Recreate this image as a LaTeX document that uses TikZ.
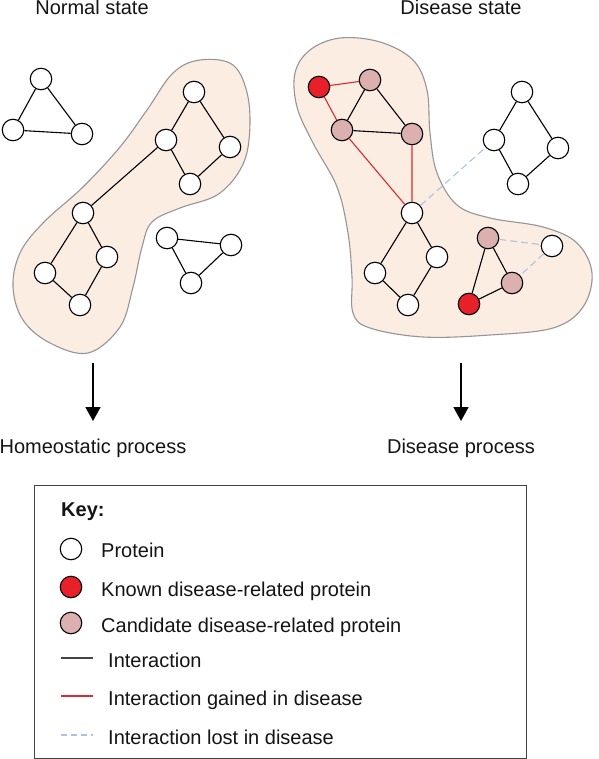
\documentclass[tikz,border=0pt]{standalone}
\usepackage{fontspec}
\setmainfont{Liberation Sans}
\usetikzlibrary{arrows.meta}
\definecolor{blobfill}{HTML}{FCEDE3}
\definecolor{blobline}{HTML}{959595}
\definecolor{known}{HTML}{E8202A}
\definecolor{cand}{HTML}{DDB0B0}
\definecolor{gain}{HTML}{DA2A30}
\definecolor{lost}{HTML}{A8C4E2}
\definecolor{keyline}{HTML}{444444}
\tikzset{
 prot/.style={circle, draw=black, fill=white, line width=1.1pt, minimum size=21.5pt, inner sep=0pt},
 knownp/.style={prot, fill=known},
 candp/.style={prot, fill=cand},
 inter/.style={line width=1.1pt, black},
 gained/.style={line width=1.1pt, gain},
 lostl/.style={line width=1.1pt, lost, dash pattern=on 7pt off 4pt},
 blob/.style={fill=blobfill, draw=blobline, line width=1.1pt},
 lbl/.style={font=\fontsize{20}{24}\selectfont, inner sep=0pt, text=black!92},
 bigarrow/.style={line width=1.7pt, -{Triangle[width=15pt,length=14pt]}},
}
\begin{document}
\begin{tikzpicture}[x=1pt,y=-1pt]
\useasboundingbox (0,0) rectangle (598,759);

% ---------- blobs ----------
\draw[blob] plot[smooth cycle, tension=0.6] coordinates {
 (200,60) (233,65) (248,97) (249,140) (240,170) (217,195) (180,208) (152,222)
 (142,247) (133,287) (120,327) (88,353) (50,343) (23,320) (13,287) (20,253)
 (43,223) (83,187) (120,147) (147,110) (173,73)};
\draw[blob] plot[smooth cycle, tension=0.6] coordinates {
 (310,50) (340,38) (380,42) (413,60) (427,90) (430,133) (437,173) (457,205)
 (490,218) (543,227) (577,243) (592,273) (583,307) (553,328) (490,335) (423,337)
 (370,328) (353,313) (352,277) (348,233) (337,187) (313,143) (297,107) (295,73)};

% ---------- titles ----------
\node[lbl, anchor=base] (tn) at (92,15) {Normal state};
\node[lbl, anchor=base] (td) at (461,15) {Disease state};

% ---------- normal state ----------
\node[prot] (a1) at (41,79) {};
\node[prot] (a2) at (13,130) {};
\node[prot] (a3) at (82,134) {};
\draw[inter] (a1) -- (a2) (a1) -- (a3) (a2) -- (a3);

\node[prot] (b1) at (194,92) {};
\node[prot] (b2) at (166,140) {};
\node[prot] (b3) at (230,147) {};
\node[prot] (b4) at (190,184) {};
\node[prot] (b5) at (83,213) {};
\node[prot] (b6) at (45,273) {};
\node[prot] (b7) at (107,257) {};
\node[prot] (b8) at (80,305) {};
\draw[inter] (b1) -- (b2) (b1) -- (b3) (b2) -- (b4) (b3) -- (b4) (b2) -- (b5)
 (b5) -- (b6) (b5) -- (b7) (b6) -- (b8) (b7) -- (b8);

\node[prot] (c1) at (167,238) {};
\node[prot] (c2) at (231,245) {};
\node[prot] (c3) at (191,283) {};
\draw[inter] (c1) -- (c2) (c1) -- (c3) (c2) -- (c3);

% ---------- disease state ----------
\node[knownp] (d1) at (319,87) {};
\node[candp] (d2) at (370,80) {};
\node[candp] (d3) at (342,130) {};
\node[candp] (d4) at (412,134) {};
\node[prot] (d5) at (412,213) {};
\node[prot] (d6) at (375,273) {};
\node[prot] (d7) at (437,257) {};
\node[prot] (d8) at (408,305) {};
\draw[gained] (d1) -- (d2) (d1) -- (d3) (d3) -- (d5) (d4) -- (d5);
\draw[inter] (d2) -- (d3) (d2) -- (d4) (d3) -- (d4)
 (d5) -- (d6) (d5) -- (d7) (d6) -- (d8) (d7) -- (d8);

\node[prot] (e1) at (522,92) {};
\node[prot] (e2) at (494,140) {};
\node[prot] (e3) at (558,148) {};
\node[prot] (e4) at (518,184) {};
\draw[inter] (e1) -- (e2) (e1) -- (e3) (e2) -- (e4) (e3) -- (e4);
\draw[lostl] (d5) -- (e2);

\node[candp] (f1) at (488,238) {};
\node[prot] (f2) at (552,246) {};
\node[candp] (f3) at (512,283) {};
\node[knownp] (f4) at (469,304) {};
\draw[inter] (f1) -- (f3) (f1) -- (f4) (f4) -- (f3);
\draw[lostl] (f1) -- (f2) (f2) -- (f3);

% ---------- arrows ----------
\coordinate (la0) at (93,363);
\coordinate (la1) at (93,421);
\coordinate (ra0) at (461,363);
\coordinate (ra1) at (461,421);
\draw[bigarrow] (la0) -- (la1);
\draw[bigarrow] (ra0) -- (ra1);
\node[lbl, anchor=base] (hp) at (93,453) {Homeostatic process};
\node[lbl, anchor=base] (dp) at (461,453) {Disease process};

% ---------- key ----------
\node[draw=keyline, line width=1.2pt, inner sep=0pt, minimum width=492pt, minimum height=273pt, anchor=north west] (keybox) at (34,485) {};
\node[lbl, anchor=base west, font=\fontsize{20}{24}\selectfont\bfseries] (kt) at (61,516) {Key:};
\node[prot] (k1) at (71,549) {};
\node[lbl, anchor=base west] (k1t) at (101,557) {Protein};
\node[knownp] (k2) at (71,587) {};
\node[lbl, anchor=base west] (k2t) at (101,596) {Known disease-related protein};
\node[candp] (k3) at (71,623) {};
\node[lbl, anchor=base west] (k3t) at (101,632) {Candidate disease-related protein};
\coordinate (l1a) at (61,658); \coordinate (l1b) at (93,658);
\coordinate (l2a) at (61,696); \coordinate (l2b) at (93,696);
\coordinate (l3a) at (61,735); \coordinate (l3b) at (93,735);
\draw[line width=1.1pt, keyline] (l1a) -- (l1b);
\draw[gained] (l2a) -- (l2b);
\draw[line width=1.1pt, lost, dash pattern=on 6pt off 4pt] (l3a) -- (l3b);
\node[lbl, anchor=base west] (l1t) at (108,667) {Interaction};
\node[lbl, anchor=base west] (l2t) at (108,705) {Interaction gained in disease};
\node[lbl, anchor=base west] (l3t) at (108,744) {Interaction lost in disease};
\end{tikzpicture}
\end{document}
